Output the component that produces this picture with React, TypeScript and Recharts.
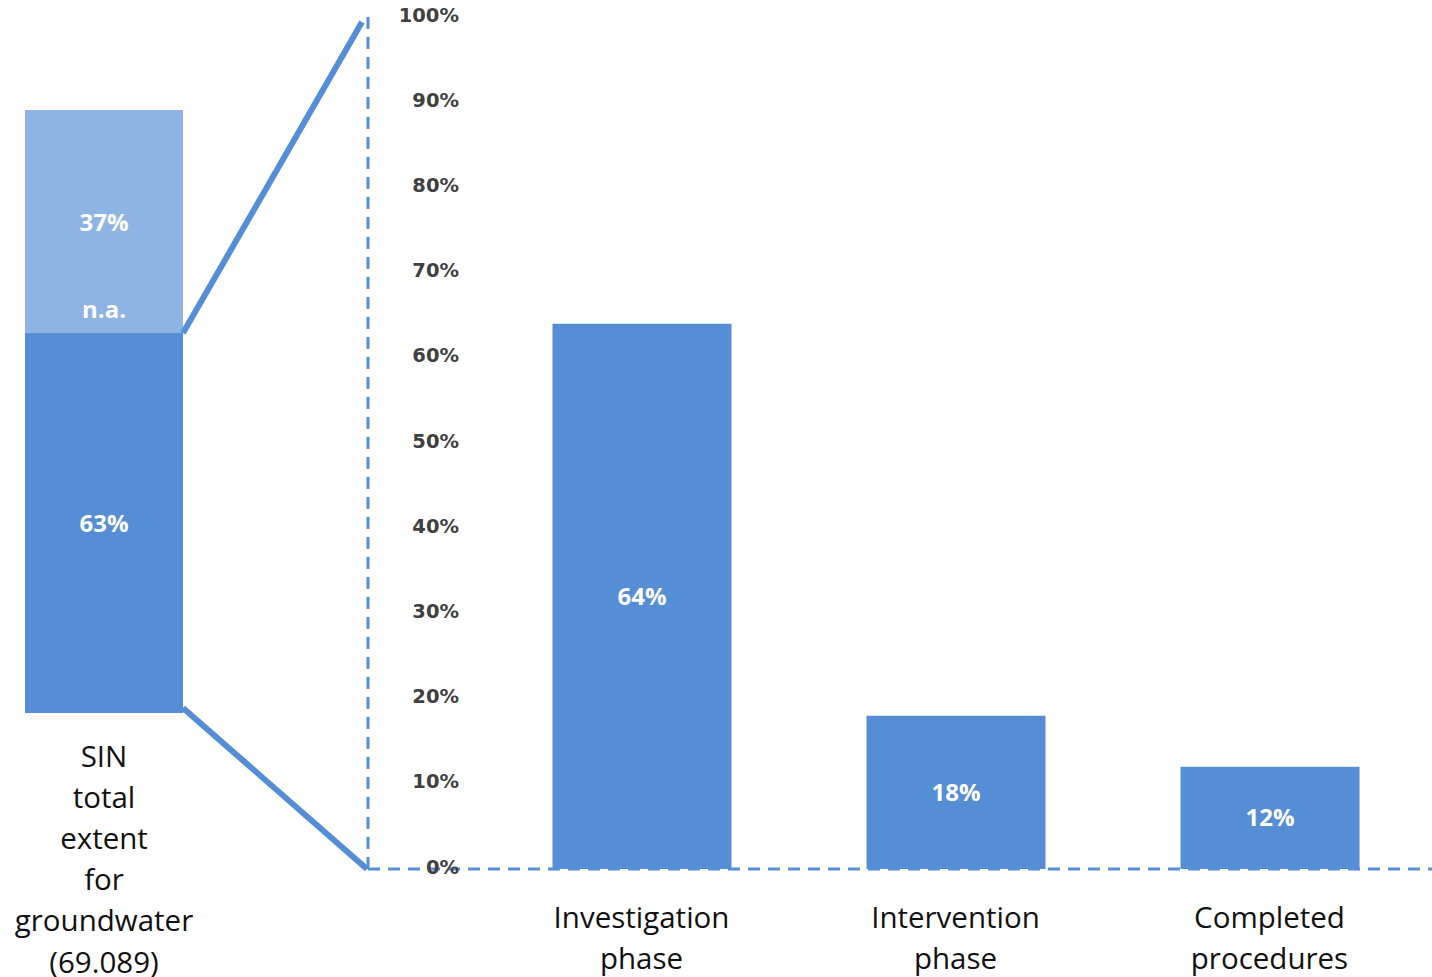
import { BarChart, Bar, XAxis, YAxis, LabelList } from 'recharts'

// left "overview" bar
const overviewCategory = ['SIN total extent for groundwater (69.089)']
const overviewInvestigated = [63]
const overviewNotAvailable = [37]

// right breakdown bars
const phaseCategories = ['Investigation phase', 'Intervention phase', 'Completed procedures']
const phaseShares = [64, 18, 12]
const yTicks = [0, 10, 20, 30, 40, 50, 60, 70, 80, 90, 100]

const DARK = '#558ED5'
const LIGHT = '#8EB4E3'
const TEXT_FONT = '"Open Sans", sans-serif'

const overviewData = overviewCategory.map((name, i) => ({
  name,
  investigated: overviewInvestigated[i],
  na: overviewNotAvailable[i],
}))

const phaseData = phaseCategories.map((name, i) => ({ name, value: phaseShares[i] }))

// layout of the left chart
const L_W = 208
const L_TOP = 110
const L_AXIS_H = 264
const L_MARGIN_X = 25
const H = 977
const L_BOTTOM = H - L_AXIS_H
const L_RIGHT = L_W - L_MARGIN_X

// layout of the right chart
const R_AXIS_X = 368
const R_Y_W = 60
const R_TOP = 17
const R_AXIS_H = 108
const R_BOTTOM = H - R_AXIS_H

function WordTick({ x, y, payload, first, step }: any) {
  const words = String(payload.value).split(' ')
  return (
    <g>
      {words.map((w, i) => (
        <text
          key={i}
          x={x}
          y={y + first + i * step}
          textAnchor="middle"
          dominantBaseline="central"
          fontFamily={TEXT_FONT}
          fontSize={29.5}
          fill="#111"
        >
          {w}
        </text>
      ))}
    </g>
  )
}

function PctTick({ x, y, payload }: any) {
  return (
    <text
      x={x + 91}
      y={y - 2}
      textAnchor="end"
      dominantBaseline="central"
      fontFamily="DejaVu Sans, sans-serif"
      fontWeight="bold"
      fontSize={19.5}
      fill="#404040"
    >
      {payload.value}%
    </text>
  )
}

function NaLabel({ x, y, width, height, value }: any) {
  const cx = x + width / 2
  const style = { fontFamily: TEXT_FONT, fontWeight: 700, fontSize: 24, fill: '#fff' }
  return (
    <g>
      <text x={cx} y={y + height / 2} textAnchor="middle" dominantBaseline="central" style={style}>
        {value}%
      </text>
      <text x={cx} y={y + height - 25} textAnchor="middle" dominantBaseline="central" style={style}>
        n.a.
      </text>
    </g>
  )
}

export default function App() {
  const splitY = L_BOTTOM - ((L_BOTTOM - L_TOP) * overviewInvestigated[0]) / 100
  const labelStyle = { fontFamily: TEXT_FONT, fontWeight: 700, fontSize: 24 }
  const dashed = { stroke: DARK, strokeWidth: 3, strokeDasharray: '12 8' }

  return (
    <div style={{ position: 'absolute', left: 0, top: 0, width: 1432, height: H, background: '#fff' }}>
      <div style={{ position: 'absolute', left: 0, top: 0 }}>
        <BarChart
          width={L_W}
          height={H}
          data={overviewData}
          margin={{ top: L_TOP, left: L_MARGIN_X, right: L_MARGIN_X, bottom: 0 }}
          barCategoryGap={0}
        >
          <XAxis
            dataKey="name"
            axisLine={false}
            tickLine={false}
            tickSize={0}
            tickMargin={0}
            height={L_AXIS_H}
            interval={0}
            tick={<WordTick first={42} step={41.2} />}
          />
          <YAxis hide domain={[0, 100]} />
          <Bar dataKey="investigated" stackId="a" fill={DARK} isAnimationActive={false}>
            <LabelList dataKey="investigated" position="center" fill="#fff" formatter={(v: any) => `${v}%`} {...labelStyle} />
          </Bar>
          <Bar dataKey="na" stackId="a" fill={LIGHT} isAnimationActive={false}>
            <LabelList dataKey="na" content={<NaLabel />} />
          </Bar>
        </BarChart>
      </div>

      <div style={{ position: 'absolute', left: 0, top: 0 }}>
        <BarChart
          width={1432}
          height={H}
          data={phaseData}
          margin={{ top: R_TOP, left: R_AXIS_X - R_Y_W, right: 0, bottom: 0 }}
          barSize={179}
        >
          <XAxis
            dataKey="name"
            axisLine={dashed}
            tickLine={false}
            tickSize={0}
            tickMargin={0}
            height={R_AXIS_H}
            interval={0}
            padding={{ left: 116.5, right: 5.5 }}
            tick={<WordTick first={47} step={41} />}
          />
          <YAxis
            width={R_Y_W}
            domain={[0, 100]}
            ticks={yTicks}
            interval={0}
            axisLine={dashed}
            tickLine={false}
            tickSize={0}
            tickMargin={0}
            tick={<PctTick />}
          />
          <Bar dataKey="value" fill={DARK} isAnimationActive={false}>
            <LabelList dataKey="value" position="center" fill="#fff" formatter={(v: any) => `${v}%`} {...labelStyle} />
          </Bar>
        </BarChart>
      </div>

      <svg
        width={1432}
        height={H}
        style={{ position: 'absolute', left: 0, top: 0, pointerEvents: 'none' }}
      >
        <line x1={L_RIGHT} y1={splitY} x2={R_AXIS_X - 6} y2={R_TOP + 5} stroke={DARK} strokeWidth={6} />
        <line x1={L_RIGHT} y1={L_BOTTOM - 5} x2={R_AXIS_X - 1} y2={R_BOTTOM} stroke={DARK} strokeWidth={6} />
      </svg>
    </div>
  )
}
